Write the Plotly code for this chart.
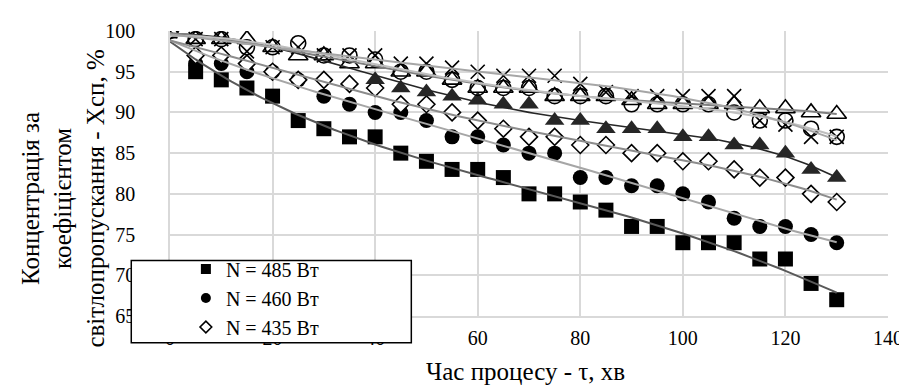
import numpy as np
import plotly.graph_objects as go

# ---- data ----
time_min = [0, 5, 10, 15, 20, 25, 30, 35, 40, 45, 50, 55, 60, 65, 70,
            75, 80, 85, 90, 95, 100, 105, 110, 115, 120, 125, 130]

n485 = [100, 95, 94, 93, 92, 89, 88, 87, 87, 85, 84, 83, 83, 82, 80,
        80, 79, 78, 76, 76, 74, 74, 74, 72, 72, 69, 67]
n460 = [100, 96, 96, 95, 95, 94, 92, 91, 90, 90, 89, 87, 87, 86, 85,
        85, 82, 82, 81, 81, 80, 79, 77, 76, 76, 75, 74]
n435 = [100, 97, 97, 96, 95, 94, 94, 93.5, 93, 91, 91, 90, 89, 88, 87,
        87, 86, 86, 85, 85, 84, 84, 83, 82, 82, 80, 79]
s_tri_filled = [100, 99, 99, 99, 98, 97, 97, 96, 94, 93, 92.5, 92, 91.5, 91, 91,
                89, 89, 88, 88, 88, 87, 87, 86, 86, 85, 83, 82]
s_tri_open = [100, 99, 99, 99, 98, 97, 97, 96, 96, 95, 95, 94, 93, 93, 93,
              92, 92, 92, 91.5, 91, 91, 91, 91, 90.5, 90.5, 90, 89.8]
s_circ_open = [100, 99, 99, 98, 98, 98.5, 97, 97, 96.5, 95, 95, 94, 93, 93, 93,
               92, 92, 92, 91, 91, 91, 91, 90, 89, 89, 88, 87]
s_x = [100, 99, 99, 97.5, 98, 98, 97, 97, 97, 96, 96, 95.5, 95, 94.5, 94.5,
       94.5, 93.5, 92.5, 92, 92, 92, 92, 92, 89, 88.5, 87, 87]

legend_names = ["N = 485 Вт", "N = 460 Вт", "N = 435 Вт"]
y_ticks = [65, 70, 75, 80, 85, 90, 95, 100]
x_ticks = [0, 20, 40, 60, 80, 100, 120, 140]

FONT = "'Liberation Serif', 'Times New Roman', serif"

# pixel geometry helpers
PL, PR, PT, PB = 162, 885, 21, 308
W, H = 907, 387


def px_x(p):
    return (p - PL) / (PR - PL)


def px_y(p):
    return (PB - p) / (PB - PT)


fig = go.Figure()

series = [
    (n485, dict(symbol="square", size=15, color="black"), "#595959", 2.0),
    (n460, dict(symbol="circle", size=15, color="black"), "#a6a6a6", 2.0),
    (n435, dict(symbol="diamond", size=13, color="white",
                line=dict(color="black", width=1.6)), "#8c8c8c", 2.0),
    (s_tri_filled, dict(symbol="triangle-up", size=17, color="#262626"), "#262626", 1.6),
    (s_tri_open, dict(symbol="triangle-up", size=17, color="white",
                      line=dict(color="black", width=1.6)), "#7f7f7f", 2.0),
    (s_circ_open, dict(symbol="circle-open", size=15, color="black",
                       line=dict(width=1.6)), "#bfbfbf", 2.0),
    (s_x, dict(symbol="x-thin-open", size=14, color="black",
               line=dict(width=1.6)), "#a6a6a6", 2.0),
]

xs = np.array(time_min, dtype=float)
xfine = np.linspace(0, 130, 131)

# markers
for vals, mk, _, _ in series:
    fig.add_trace(go.Scatter(x=time_min, y=vals, mode="markers", marker=mk,
                             showlegend=False, hoverinfo="skip"))

# polynomial trend lines (fitted to the data)
for vals, _, lc, lw in series:
    coef = np.polyfit(xs, np.array(vals, dtype=float), 4)
    fig.add_trace(go.Scatter(x=xfine, y=np.polyval(coef, xfine), mode="lines",
                             line=dict(color=lc, width=lw),
                             showlegend=False, hoverinfo="skip"))

# legend-only entries
leg_markers = [
    dict(symbol="square", size=10, color="black"),
    dict(symbol="circle", size=10, color="black"),
    dict(symbol="diamond-open", size=9, color="black", line=dict(width=1.6)),
]
for name, mk in zip(legend_names, leg_markers):
    fig.add_trace(go.Scatter(x=[None], y=[None], mode="markers", marker=mk,
                             name=name, showlegend=True))

# legend box
fig.add_shape(type="rect", xref="paper", yref="paper",
              x0=px_x(123), x1=px_x(405), y0=px_y(335), y1=px_y(252),
              fillcolor="white", line=dict(color="black", width=1.5),
              layer="above")

fig.add_annotation(text="Концентрація за<br>коефіцієнтом<br>світлопропускання - Хсп, %",
                   xref="paper", yref="paper", x=px_x(54), y=px_y(190),
                   xanchor="center", yanchor="middle", textangle=-90,
                   showarrow=False, align="center",
                   font=dict(family=FONT, size=25, color="black"))
fig.add_annotation(text="Час процесу - τ, хв",
                   xref="paper", yref="paper", x=px_x(520), y=px_y(364),
                   xanchor="center", yanchor="middle",
                   showarrow=False, font=dict(family=FONT, size=25, color="black"))

fig.update_layout(
    width=W, height=H,
    margin=dict(l=PL, r=W - PR, t=PT, b=H - PB, pad=0),
    paper_bgcolor="white", plot_bgcolor="white",
    font=dict(family=FONT, size=20, color="black"),
    legend=dict(x=px_x(178), y=px_y(241), xanchor="left", yanchor="top",
                bgcolor="rgba(0,0,0,0)", borderwidth=0,
                font=dict(family=FONT, size=20, color="black"),
                tracegroupgap=0),
    xaxis=dict(range=[0, 140], tickvals=x_ticks, ticktext=[str(v) for v in x_ticks],
               showgrid=True, gridcolor="#d9d9d9", gridwidth=1.5,
               showline=True, linecolor="#d9d9d9", linewidth=1.5,
               zeroline=False, ticks="", ticklabelstandoff=3,
               tickfont=dict(family=FONT, size=20, color="black")),
    yaxis=dict(range=[65, 100], tickvals=y_ticks, ticktext=[str(v) for v in y_ticks],
               showgrid=True, gridcolor="#d9d9d9", gridwidth=1.5,
               showline=True, linecolor="#d9d9d9", linewidth=1.5,
               zeroline=False, ticks="", ticklabelstandoff=29,
               tickfont=dict(family=FONT, size=20, color="black")),
)

fig.write_html("out.html")
